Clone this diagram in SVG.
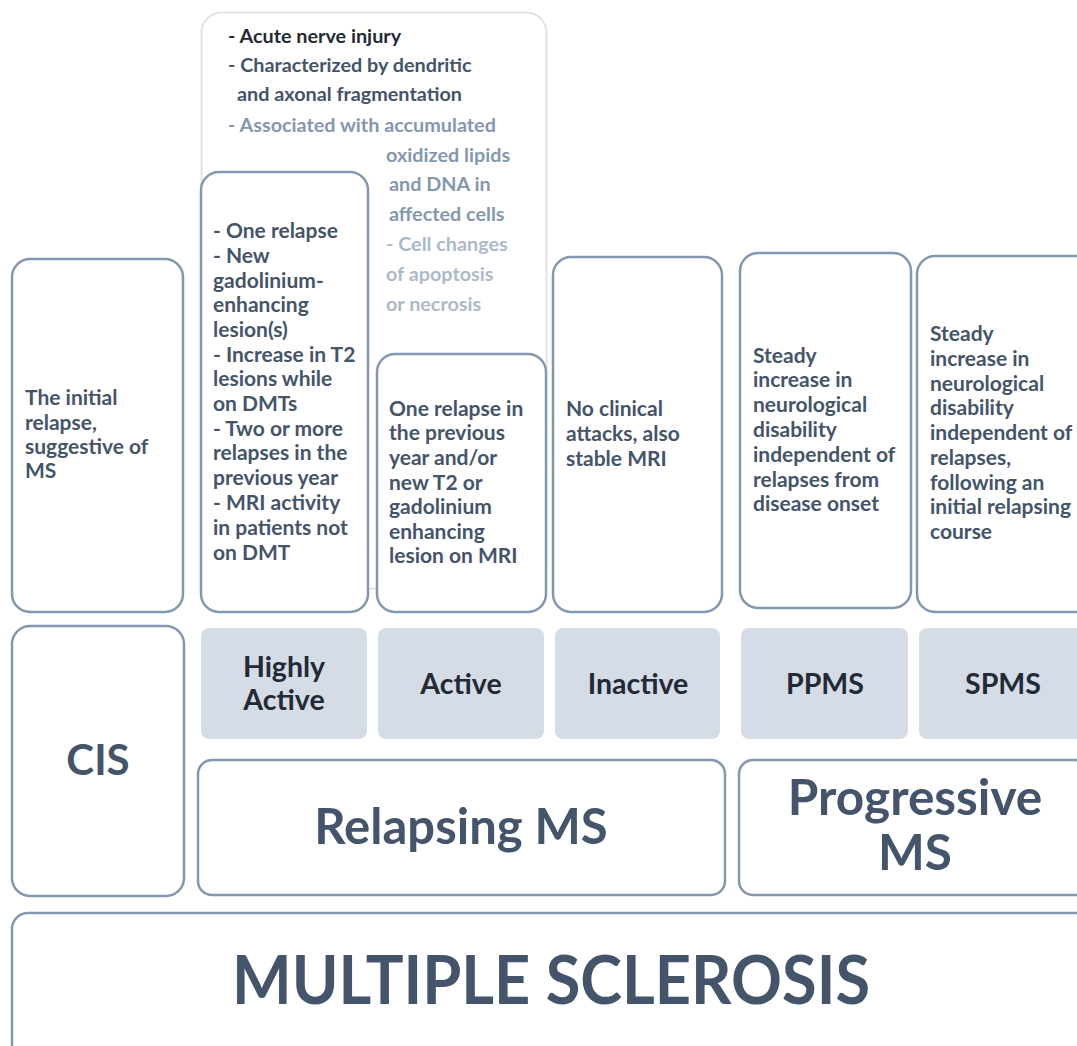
<svg xmlns="http://www.w3.org/2000/svg" width="1077" height="1046" viewBox="0 0 1077 1046">
<style>
text{font-family:Lato,"Open Sans","Liberation Sans",sans-serif;font-weight:bold}
.d{font-size:21px;fill:#44546a}
.t{font-size:19.8px}
.box{fill:#fff;stroke:#8497b0;stroke-width:2.5}
.g{fill:#d6dce5}
.lab{font-size:28.5px;fill:#222a35;text-anchor:middle}
.big{fill:#44546a;text-anchor:middle}
</style>
<rect width="1077" height="1046" fill="#fff"/>
<g id="mechanism">
<rect x="201.5" y="12.5" width="345" height="576" rx="20" fill="none" stroke="#e3e3e3" stroke-width="2"/>
<text class="t" x="228" y="43" fill="#222a35">- Acute nerve injury</text>
<text class="t" x="228" y="72" fill="#44546a">- Characterized by dendritic</text>
<text class="t" x="237" y="101" fill="#44546a">and axonal fragmentation</text>
<text class="t" x="228" y="132" fill="#8497b0">- Associated with accumulated</text>
<text class="t" x="386" y="162" fill="#8497b0">oxidized lipids</text>
<text class="t" x="389" y="191" fill="#8497b0">and DNA in</text>
<text class="t" x="389" y="221" fill="#8497b0">affected cells</text>
<text class="t" x="386" y="251" fill="#adb9ca">- Cell changes</text>
<text class="t" x="386" y="281" fill="#adb9ca">of apoptosis</text>
<text class="t" x="386" y="311" fill="#adb9ca">or necrosis</text>
</g>
<g id="cis-desc">
<rect class="box" x="12" y="259" width="171" height="353" rx="18"/>
<text class="d" x="25" y="405">The initial</text>
<text class="d" x="25" y="430">relapse,</text>
<text class="d" x="25" y="454">suggestive of</text>
<text class="d" x="25" y="478">MS</text>
</g>
<g id="highly-active-desc">
<rect class="box" x="201" y="172" width="167" height="440" rx="18"/>
<text class="d" x="213" y="238">- One relapse</text>
<text class="d" x="213" y="263">- New</text>
<text class="d" x="213" y="288">gadolinium-</text>
<text class="d" x="213" y="312">enhancing</text>
<text class="d" x="213" y="337">lesion(s)</text>
<text class="d" x="213" y="362">- Increase in T2</text>
<text class="d" x="213" y="386">lesions while</text>
<text class="d" x="213" y="411">on DMTs</text>
<text class="d" x="213" y="436">- Two or more</text>
<text class="d" x="213" y="460">relapses in the</text>
<text class="d" x="213" y="485">previous year</text>
<text class="d" x="213" y="510">- MRI activity</text>
<text class="d" x="213" y="535">in patients not</text>
<text class="d" x="213" y="560">on DMT</text>
</g>
<g id="active-desc">
<rect class="box" x="377" y="354" width="169" height="258" rx="18"/>
<text class="d" x="389" y="416">One relapse in</text>
<text class="d" x="389" y="440">the previous</text>
<text class="d" x="389" y="465">year and/or</text>
<text class="d" x="389" y="490">new T2 or</text>
<text class="d" x="389" y="514">gadolinium</text>
<text class="d" x="389" y="539">enhancing</text>
<text class="d" x="389" y="563">lesion on MRI</text>
</g>
<g id="inactive-desc">
<rect class="box" x="553" y="257" width="169" height="355" rx="18"/>
<text class="d" x="566" y="416">No clinical</text>
<text class="d" x="566" y="441">attacks, also</text>
<text class="d" x="566" y="466">stable MRI</text>
</g>
<g id="ppms-desc">
<rect class="box" x="740" y="253" width="171" height="355" rx="18"/>
<text class="d" x="753" y="363">Steady</text>
<text class="d" x="753" y="387">increase in</text>
<text class="d" x="753" y="412">neurological</text>
<text class="d" x="753" y="437">disability</text>
<text class="d" x="753" y="462">independent of</text>
<text class="d" x="753" y="487">relapses from</text>
<text class="d" x="753" y="511">disease onset</text>
</g>
<g id="spms-desc">
<rect class="box" x="917" y="256" width="180" height="356" rx="18"/>
<text class="d" x="930" y="341">Steady</text>
<text class="d" x="930" y="366">increase in</text>
<text class="d" x="930" y="391">neurological</text>
<text class="d" x="930" y="415">disability</text>
<text class="d" x="930" y="440">independent of</text>
<text class="d" x="930" y="465">relapses,</text>
<text class="d" x="930" y="490">following an</text>
<text class="d" x="930" y="514">initial relapsing</text>
<text class="d" x="930" y="539">course</text>
</g>
<g id="highly-active">
<rect class="g" x="201" y="628" width="166" height="111" rx="8"/>
<text class="lab" x="284" y="677">Highly</text>
<text class="lab" x="284" y="710">Active</text>
</g>
<g id="active">
<rect class="g" x="378" y="628" width="166" height="111" rx="8"/>
<text class="lab" x="461" y="694">Active</text>
</g>
<g id="inactive">
<rect class="g" x="555" y="628" width="165" height="111" rx="8"/>
<text class="lab" x="638" y="694">Inactive</text>
</g>
<g id="ppms">
<rect class="g" x="741" y="628" width="167" height="111" rx="8"/>
<text class="lab" x="825" y="694">PPMS</text>
</g>
<g id="spms">
<rect class="g" x="919" y="628" width="170" height="111" rx="8"/>
<text class="lab" x="1003" y="694">SPMS</text>
</g>
<g id="cis">
<rect class="box" x="12" y="626" width="172" height="270" rx="18"/>
<text class="big" x="98" y="775" font-size="42">CIS</text>
</g>
<g id="relapsing-ms">
<rect class="box" x="198" y="760" width="527" height="135" rx="14"/>
<text class="big" x="461" y="844" font-size="49">Relapsing MS</text>
</g>
<g id="progressive-ms">
<rect class="box" x="739" y="760" width="350" height="135" rx="14"/>
<text class="big" x="915" y="815" font-size="49.5">Progressive</text>
<text class="big" x="915" y="870" font-size="49.5">MS</text>
</g>
<g id="multiple-sclerosis">
<rect class="box" x="12" y="913" width="1080" height="150" rx="16"/>
<text class="big" x="551" y="1004" font-size="66" textLength="638" lengthAdjust="spacingAndGlyphs">MULTIPLE SCLEROSIS</text>
</g>
<g id="connectors"/>
</svg>
